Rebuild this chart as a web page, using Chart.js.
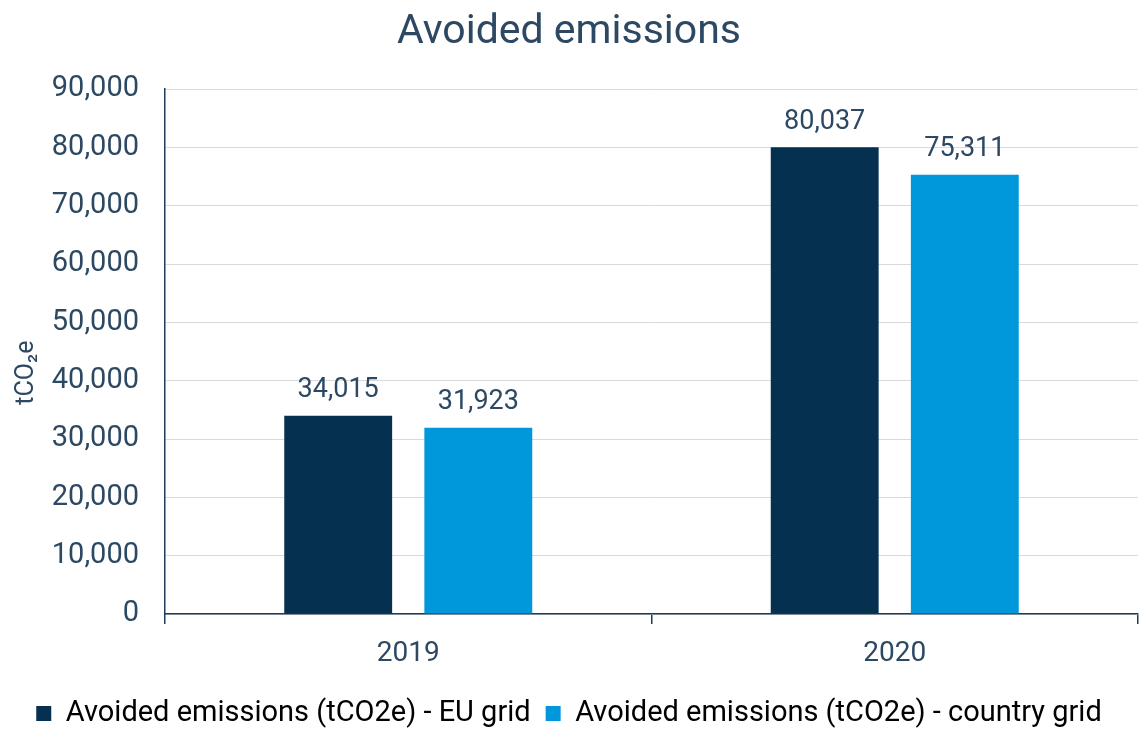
<!DOCTYPE html>
<html>
<head>
<meta charset="utf-8">
<script src="https://cdn.jsdelivr.net/npm/chart.js@4.4.1/dist/chart.umd.min.js"></script>
<style>
html,body{margin:0;padding:0;background:#fff;}
#wrap{width:1140px;height:729px;position:relative;}
</style>
</head>
<body>
<div id="wrap"><canvas id="c" width="1140" height="729"></canvas></div>
<script>
const categories = ["2019", "2020"];
const euGrid = [34015, 80037];
const countryGrid = [31923, 75311];
const seriesNames = ["Avoided emissions (tCO2e) - EU grid", "Avoided emissions (tCO2e) - country grid"];
const yTitle = "tCO\u2082e";
const chartTitle = "Avoided emissions";

const textColor = "#2c4863";
const axisColor = "#1d3c5a";
const fontFam = "Roboto, 'Liberation Sans', sans-serif";

const labelPlugin = {
  id: 'barLabels',
  afterDatasetsDraw(chart) {
    const ctx = chart.ctx;
    ctx.save();
    ctx.font = "27px " + fontFam;
    ctx.fillStyle = textColor;
    ctx.textAlign = "center";
    ctx.textBaseline = "bottom";
    chart.data.datasets.forEach((ds, i) => {
      const meta = chart.getDatasetMeta(i);
      meta.data.forEach((bar, j) => {
        ctx.fillText(ds.data[j].toLocaleString('en-US'), bar.x, bar.y - 12);
      });
    });
    ctx.restore();
  }
};

const yTitlePlugin = {
  id: 'yTitle',
  afterDraw(chart) {
    const ctx = chart.ctx;
    const area = chart.chartArea;
    ctx.save();
    ctx.font = "25px " + fontFam;
    ctx.fillStyle = textColor;
    ctx.textAlign = "center";
    ctx.textBaseline = "middle";
    ctx.translate(27, (area.top + area.bottom) / 2 + 21);
    ctx.rotate(-Math.PI / 2);
    ctx.fillText(yTitle, 0, 0);
    ctx.restore();
  }
};

new Chart(document.getElementById('c'), {
  type: 'bar',
  data: {
    labels: categories,
    datasets: [
      { label: seriesNames[0], data: euGrid, backgroundColor: "#06304f", barPercentage: 0.77, categoryPercentage: 0.576 },
      { label: seriesNames[1], data: countryGrid, backgroundColor: "#0098da", barPercentage: 0.77, categoryPercentage: 0.576 }
    ]
  },
  options: {
    responsive: false,
    animation: false,
    layout: { padding: { left: 0, right: 2, top: 0, bottom: -9 } },
    plugins: {
      title: {
        display: true, text: chartTitle, color: textColor,
        font: { family: fontFam, size: 41, weight: 'normal' },
        padding: { top: 8, bottom: 32 }
      },
      legend: {
        position: 'bottom',
        labels: {
          color: textColor, boxWidth: 15, boxHeight: 15, padding: 15,
          font: { family: fontFam, size: 29 },
          generateLabels(chart) {
            return chart.data.datasets.map((ds, i) => ({
              text: ds.label, fillStyle: ds.backgroundColor, strokeStyle: ds.backgroundColor,
              lineWidth: 0, datasetIndex: i, hidden: false
            }));
          }
        }
      },
      tooltip: { enabled: false }
    },
    scales: {
      x: {
        afterFit(scale) { scale.height = 70; },
        grid: { offset: true, drawOnChartArea: false, drawTicks: true, tickLength: 10, color: axisColor, lineWidth: 1.5 },
        border: { display: true, color: axisColor, width: 1.5 },
        ticks: { color: textColor, font: { family: fontFam, size: 28 }, padding: 13 }
      },
      y: {
        min: 0, max: 90000,
        afterFit(scale) { scale.width = 165; },
        grid: { color: "#d9d9d9", drawTicks: false, lineWidth: 1 },
        border: { display: true, color: axisColor, width: 1.5 },
        ticks: {
          stepSize: 10000, color: textColor, padding: 26,
          font: { family: fontFam, size: 29 },
          callback: v => v.toLocaleString('en-US')
        }
      }
    }
  },
  plugins: [labelPlugin, yTitlePlugin]
});
</script>
</body>
</html>
